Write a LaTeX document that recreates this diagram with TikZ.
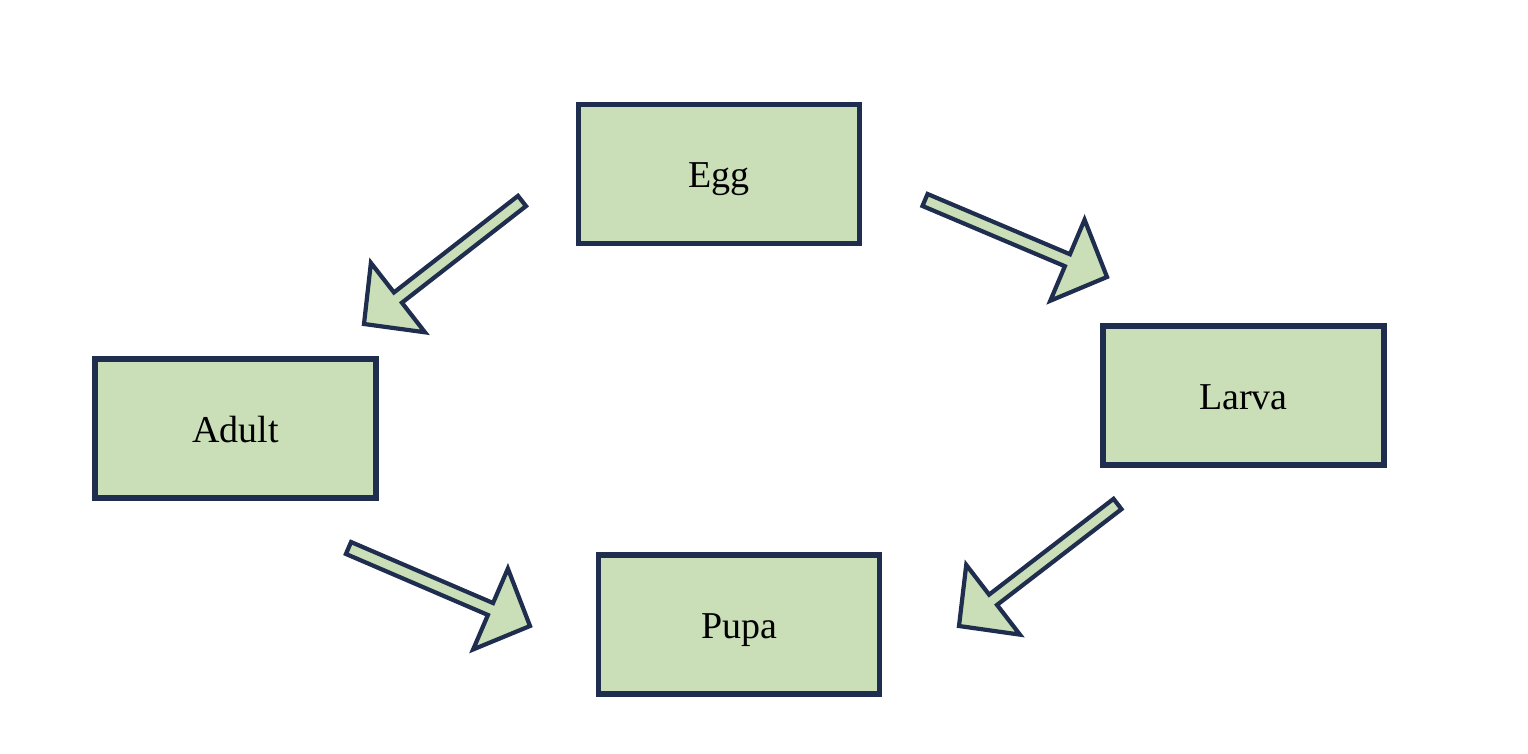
\documentclass[tikz,border=0pt]{standalone}
\usepackage{fontspec}
\setmainfont{Liberation Serif}
\usetikzlibrary{calc}

\definecolor{stagefill}{HTML}{CADFB8}
\definecolor{stageline}{HTML}{1F2D4E}

\begin{document}
\begin{tikzpicture}[
	stage/.style={draw=stageline, fill=stagefill, line width=1.45pt, minimum width=2.81cm, minimum height=1.39cm, text height=0.78em, text depth=0pt, font=\fontsize{10.8}{13}\selectfont},
	blockarrow/.style={draw=stageline, fill=stagefill, line width=1.2pt, line join=miter}
]

\def\shafthw{0.065cm}
\def\headhw{0.44cm}
\def\headlen{0.43cm}

% block arrow from #1 (tail) to #2 (tip)
\def\blockarrow#1#2{
	\coordinate (#1-n) at ($(#2)!\headlen!(#1)$);
	\draw[blockarrow] ($(#1)!\shafthw!90:(#2)$) -- ($(#1-n)!\shafthw!90:(#2)$) -- ($(#1-n)!\headhw!90:(#2)$) -- (#2)
		-- ($(#1-n)!\headhw!-90:(#2)$) -- ($(#1-n)!\shafthw!-90:(#2)$) -- ($(#1)!\shafthw!-90:(#2)$) -- cycle;
}

\useasboundingbox (0,0) rectangle (15.28,7.54);

% stages
\node[stage] (egg) at (7.19, 5.80) {Egg};
\node[stage] (larva) at (12.435, 3.585) {Larva};
\node[stage] (adult) at (2.355, 3.255) {Adult};
\node[stage] (pupa) at (7.39, 1.295) {Pupa};

% arrow ends
\coordinate (eggL) at (5.22, 5.53);
\coordinate (adultT) at (3.64, 4.30);
\coordinate (eggR) at (9.25, 5.54);
\coordinate (larvaT) at (11.07, 4.77);
\coordinate (larvaB) at (11.175, 2.50);
\coordinate (pupaR) at (9.59, 1.28);
\coordinate (adultB) at (3.485, 2.06);
\coordinate (pupaL) at (5.30, 1.28);

\blockarrow{eggL}{adultT}
\blockarrow{eggR}{larvaT}
\blockarrow{larvaB}{pupaR}
\blockarrow{adultB}{pupaL}

\end{tikzpicture}
\end{document}
